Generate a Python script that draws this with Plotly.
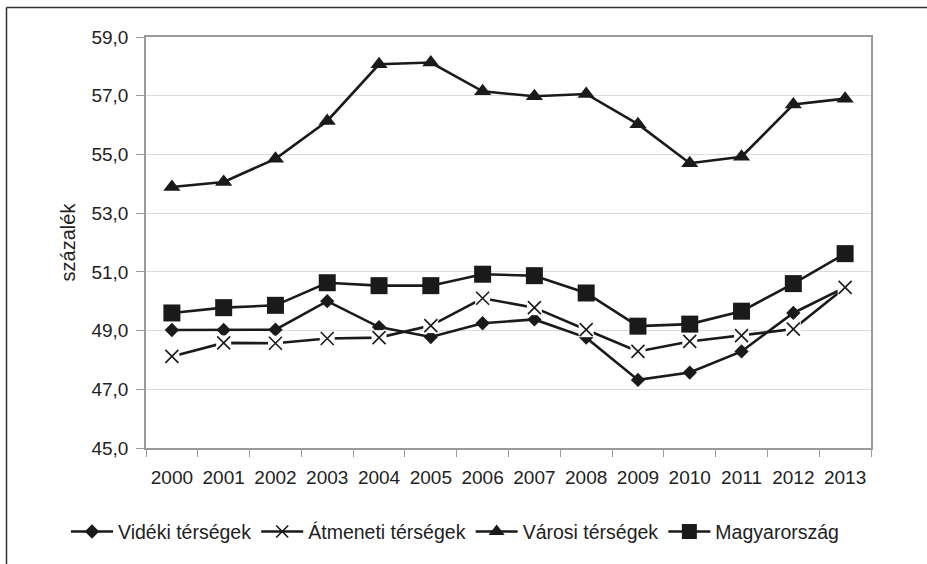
import plotly.graph_objects as go

years = [str(y) for y in range(2000, 2014)]
videki = [49.02, 49.02, 49.03, 50.0, 49.12, 48.78, 49.25, 49.38, 48.76, 47.32, 47.57, 48.29, 49.6, 50.47]
atmeneti = [48.12, 48.58, 48.57, 48.73, 48.76, 49.17, 50.1, 49.78, 49.03, 48.29, 48.63, 48.83, 49.05, 50.47]
varosi = [53.89, 54.06, 54.85, 56.14, 58.07, 58.13, 57.15, 56.98, 57.06, 56.03, 54.7, 54.92, 56.7, 56.9]
magyar = [49.6, 49.78, 49.86, 50.63, 50.53, 50.53, 50.92, 50.87, 50.28, 49.15, 49.22, 49.66, 50.6, 51.62]

ytickvals = [45, 47, 49, 51, 53, 55, 57, 59]
yticktext = ["45,0", "47,0", "49,0", "51,0", "53,0", "55,0", "57,0", "59,0"]

names = ["Vidéki térségek", "Átmeneti térségek", "Városi térségek", "Magyarország"]

BLACK = "#1a1a1a"
LW = 2.6
fig = go.Figure()

# Vidéki
fig.add_trace(go.Scatter(x=years, y=videki, mode="lines+markers", showlegend=False,
                         line=dict(color=BLACK, width=LW),
                         marker=dict(symbol="diamond", size=11, color=BLACK)))
# Átmeneti: line, white backing, x markers
fig.add_trace(go.Scatter(x=years, y=atmeneti, mode="lines", showlegend=False,
                         line=dict(color=BLACK, width=LW)))
fig.add_trace(go.Scatter(x=years, y=atmeneti, mode="markers", showlegend=False,
                         marker=dict(symbol="square", size=15, color="white")))
fig.add_trace(go.Scatter(x=years, y=atmeneti, mode="markers", showlegend=False,
                         marker=dict(symbol="x-thin-open", size=13, color=BLACK,
                                     line=dict(color="#333333", width=1.6))))
# Városi
fig.add_trace(go.Scatter(x=years, y=varosi, mode="lines+markers", showlegend=False,
                         line=dict(color=BLACK, width=LW),
                         marker=dict(symbol="triangle-up", size=15, color=BLACK)))
# Magyarország
fig.add_trace(go.Scatter(x=years, y=magyar, mode="lines+markers", showlegend=False,
                         line=dict(color=BLACK, width=LW),
                         marker=dict(symbol="square", size=17, color=BLACK)))

# legend-only entries
legend_markers = [
    dict(symbol="diamond", size=11, color=BLACK),
    dict(symbol="x-thin-open", size=12, color=BLACK, line=dict(color="#333333", width=1.6)),
    dict(symbol="triangle-up", size=14, color=BLACK),
    dict(symbol="square", size=15, color=BLACK),
]
for nm, mk in zip(names, legend_markers):
    fig.add_trace(go.Scatter(x=[None], y=[None], mode="lines+markers", name=nm,
                             line=dict(color=BLACK, width=LW), marker=mk))

# outer frame (top and left)
fig.add_shape(type="line", xref="paper", yref="paper",
              x0=(6.5 - 146) / 725, x1=(930 - 146) / 725, y0=(448 - 7.5) / 411, y1=(448 - 7.5) / 411,
              line=dict(color="#333333", width=1.5))
fig.add_shape(type="line", xref="paper", yref="paper",
              x0=(6.5 - 146) / 725, x1=(6.5 - 146) / 725, y0=(448 - 7.5) / 411, y1=(448 - 570) / 411,
              line=dict(color="#333333", width=1.5))

fig.update_layout(
    width=927, height=564,
    margin=dict(l=146, r=56, t=37, b=116),
    paper_bgcolor="white", plot_bgcolor="white",
    font=dict(family="Liberation Sans, Arial, sans-serif", size=19, color="#222222"),
    showlegend=True,
    legend=dict(orientation="h", x=(66 - 146) / 725, xanchor="left", y=-0.204, yanchor="middle",
                font=dict(size=19.5), itemwidth=42, tracegroupgap=0, bgcolor="rgba(0,0,0,0)"),
    xaxis=dict(type="category", showgrid=False, showline=True, linecolor="#9a9a9a",
               linewidth=1.5, mirror=True, ticks="outside", tickson="boundaries",
               ticklen=7, tickcolor="#9a9a9a", tickfont=dict(size=19),
               ticklabelstandoff=11, range=[-0.5, 13.5]),
    yaxis=dict(range=[45, 59], tickvals=ytickvals, ticktext=yticktext,
               showgrid=True, gridcolor="#dcdcdc", gridwidth=1.2,
               showline=True, linecolor="#9a9a9a", linewidth=1.5, mirror=True,
               ticks="outside", ticklen=8, tickcolor="#9a9a9a", zeroline=False,
               tickfont=dict(size=19), ticklabelstandoff=4,
               title=dict(text="százalék", font=dict(size=20), standoff=10)),
)

fig.write_html("out.html", config={"displayModeBar": False},
               post_script="document.body.style.margin='0px';")
